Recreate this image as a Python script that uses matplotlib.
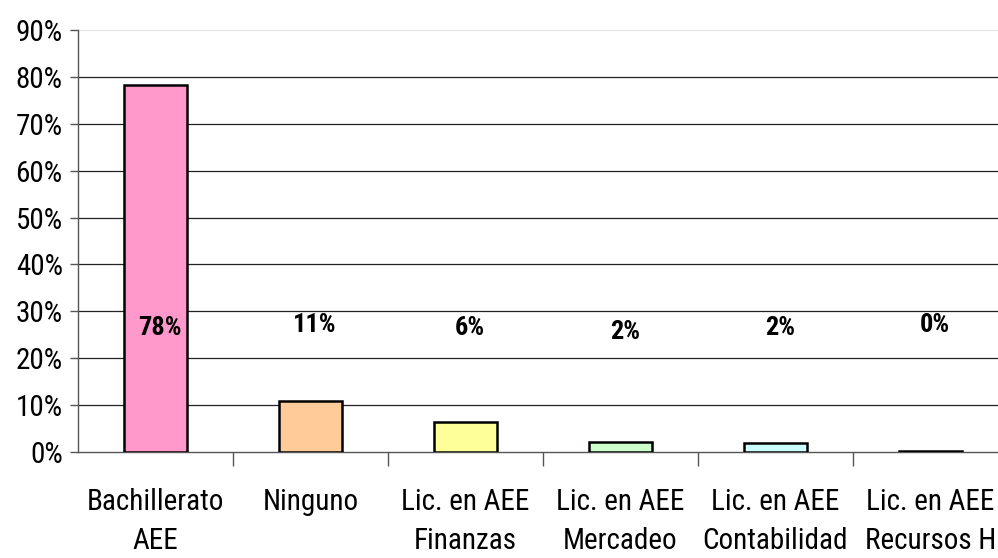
import matplotlib.pyplot as plt
import numpy as np

categories = ["Bachillerato\nAEE", "Ninguno", "Lic. en AEE\nFinanzas", "Lic. en AEE\nMercadeo",
              "Lic. en AEE\nContabilidad", "Lic. en AEE\nRecursos H"]
values = [78.2, 10.9, 6.3, 2.2, 1.9, 0.3]
labels = ["78%", "11%", "6%", "2%", "2%", "0%"]
colors = ["#FF99CC", "#FFCC99", "#FFFF99", "#CCFFCC", "#CCFFFF", "#000000"]
label_y = [26.5, 27.0, 26.5, 25.5, 26.5, 27.0]

FONT = ["Roboto Condensed", "DejaVu Sans"]

fig = plt.figure(figsize=(9.98, 5.58), dpi=100)
ax = fig.add_axes([78 / 998, 106 / 558, 930 / 998, 422 / 558])

x = np.arange(len(categories))
ax.bar(x, values, width=0.41, color=colors, edgecolor="black", linewidth=1.8, zorder=3)

# value labels float at a fixed height, as in the original
for xi, lab, ly in zip(x, labels, label_y):
    ax.text(xi + 0.03, ly, lab, ha="center", va="center", fontsize=19,
            fontweight="bold", family=FONT, zorder=4)

ax.set_xlim(-0.5, len(categories) - 0.5)
ax.set_ylim(0, 90)
ax.set_yticks(np.arange(0, 91, 10))
ax.set_yticklabels([f"{v}%" for v in range(0, 91, 10)], family=FONT, fontsize=21)
for v in range(10, 90, 10):
    ax.axhline(v, color="#222222", linewidth=0.9, zorder=1)
ax.axhline(90, color="#e6e6e6", linewidth=0.9, zorder=1)

ax.set_xticks(x)
ax.set_xticklabels(categories, family=FONT, fontsize=21, linespacing=1.5)
ax.tick_params(axis="x", length=0, pad=26)
ax.set_xticks(np.arange(0.5, len(categories) - 0.5, 1), minor=True)
ax.tick_params(axis="x", which="minor", length=10, color="#555555", width=1)
ax.tick_params(axis="y", length=6, color="#555555", width=1, pad=5)

for s in ["top", "right"]:
    ax.spines[s].set_visible(False)
ax.spines["left"].set_color("#555555")
ax.spines["bottom"].set_color("#555555")
ax.spines["left"].set_linewidth(1)
ax.spines["bottom"].set_linewidth(1)

fig.savefig("out.png", dpi=100)
